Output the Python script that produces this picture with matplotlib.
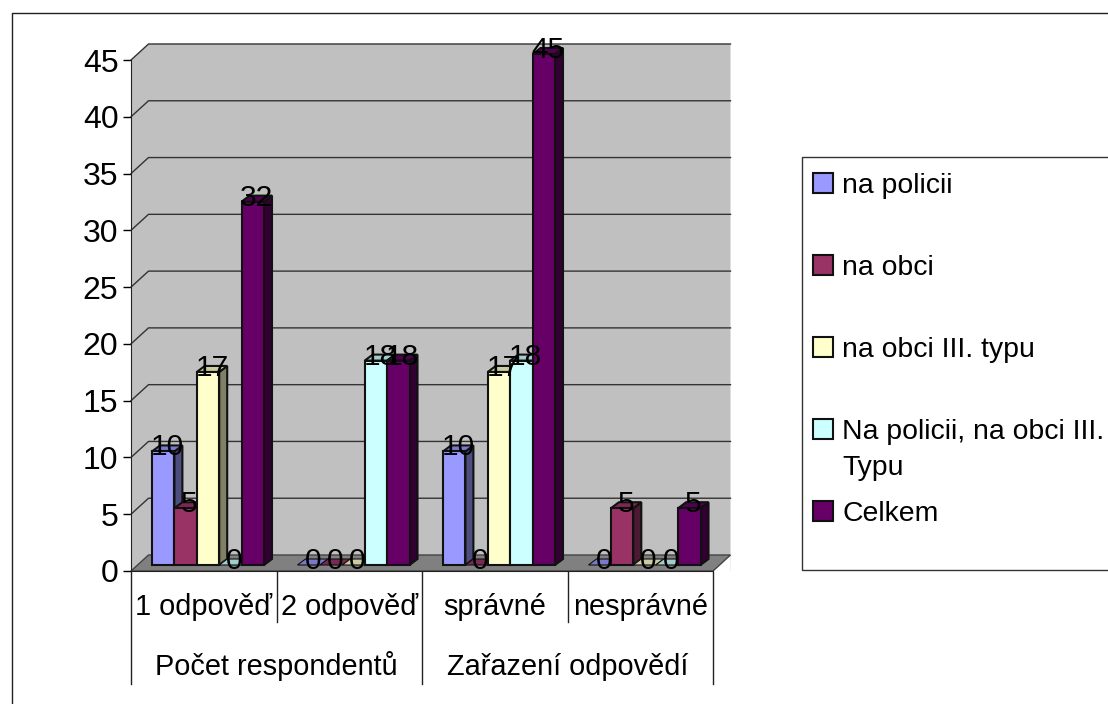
import matplotlib
matplotlib.use('Agg')
import matplotlib.pyplot as plt
from matplotlib.patches import Polygon, Rectangle

# data
groups = ['Počet respondentů', 'Zařazení odpovědí']
categories = ['1 odpověď', '2 odpověď', 'správné', 'nesprávné']
series_names = ['na policii', 'na obci', 'na obci III. typu', 'Na policii, na obci III.\nTypu', 'Celkem']
na_policii = [10, 0, 10, 0]
na_obci = [5, 0, 0, 5]
na_obci_iii = [17, 0, 17, 0]
policie_obec_iii = [0, 18, 18, 0]
celkem = [32, 18, 45, 5]
series = [na_policii, na_obci, na_obci_iii, policie_obec_iii, celkem]
colors = ['#9999FF', '#993366', '#FFFFCC', '#CCFFFF', '#660066']
yticks = list(range(0, 50, 5))

W, H = 1108, 704
FONT = 'Liberation Sans'
FS_TICK = 23
FS_LABEL = 21.5
FS_CAT = 20.8
FS_LEG = 20.4

fig = plt.figure(figsize=(W / 100, H / 100), dpi=100)

# overlay in pixels for frame, legend and the category table
bg = fig.add_axes([0, 0, 1, 1])
bg.set_xlim(0, W)
bg.set_ylim(H, 0)
bg.axis('off')

left, right, top, bottom = 131, 713, 60, 571
ax = fig.add_axes([left / W, 1 - bottom / H, (right - left) / W, (bottom - top) / H])
ax.patch.set_alpha(0)
ax.set_xlim(0, 4)
ax.set_ylim(0, 45)

# one pixel in data units
px = 4 / (right - left)
py = 45 / (bottom - top)
wall_dx, wall_dy = 17.5 * px, 16 * py
bar_dx, bar_dy = 8 * px, 6 * py
bar_w = 22.4 * px
group_start = 21 * px


def shade(color, f):
    r, g, b = matplotlib.colors.to_rgb(color)
    return (r * f, g * f, b * f)


def poly(points, color, z, lw=1.5, edge='#111111'):
    ax.add_patch(Polygon(points, closed=True, facecolor=color, edgecolor=edge,
                         linewidth=lw, clip_on=False, zorder=z))


# walls and floor
ymax = 45
poly([(0, 0), (4 + wall_dx, 0), (4 + wall_dx, ymax + wall_dy), (wall_dx, ymax + wall_dy), (0, ymax)],
     '#C0C0C0', 1, 0, 'none')
poly([(4, 0), (4 + wall_dx, wall_dy), (4 + wall_dx, -1 * py), (4, -1 * py)], 'white', 1, 0, 'none')
poly([(0, 0), (wall_dx, wall_dy), (4 + wall_dx, wall_dy), (4, 0)], '#808080', 2, 1.0, '#444444')
for v in yticks[1:]:
    ax.plot([0, wall_dx, 4 + wall_dx], [v, v + wall_dy, v + wall_dy], color='#333333', lw=1.0,
            clip_on=False, zorder=2)

# bars
z = 3
for c in range(len(categories)):
    for s, vals in enumerate(series):
        v = vals[c]
        x0 = c + group_start + s * bar_w
        x1 = x0 + bar_w
        y0 = bar_dy
        if v == 0:
            # empty bar, only a flat top is left on the floor
            poly([(x0, y0), (x1, y0), (x1 + bar_dx, y0 + bar_dy), (x0 + bar_dx, y0 + bar_dy)],
                 shade(colors[s], 0.8), z, lw=0.8)
            z += 1
            continue
        poly([(x1, y0), (x1 + bar_dx, y0 + bar_dy), (x1 + bar_dx, y0 + v + bar_dy), (x1, y0 + v)],
             shade(colors[s], 0.5), z)
        poly([(x0, y0 + v), (x1, y0 + v), (x1 + bar_dx, y0 + v + bar_dy), (x0 + bar_dx, y0 + v + bar_dy)],
             shade(colors[s], 0.8), z)
        ax.bar(x0, v, width=bar_w, bottom=y0, align='edge', color=colors[s], edgecolor='#111111',
               linewidth=1.5, clip_on=False, zorder=z)
        z += 1

for c in range(len(categories)):
    for s, vals in enumerate(series):
        v = vals[c]
        x0 = c + group_start + s * bar_w
        ax.text(x0 + bar_w / 2 + bar_dx / 2, v + bar_dy + 4 * py, str(v), ha='center', va='center',
                fontsize=FS_LABEL, family=FONT, color='black', clip_on=False, zorder=200)

# axis
ax.set_xticks([])
ax.set_yticks(yticks)
ax.set_yticklabels([str(v) for v in yticks], fontsize=FS_TICK, family=FONT)
ax.tick_params(axis='y', length=6, width=1, pad=3)
for name in ['top', 'right']:
    ax.spines[name].set_visible(False)
ax.spines['left'].set_color('#222222')
ax.spines['left'].set_zorder(100)
ax.spines['bottom'].set_color('#222222')
ax.spines['bottom'].set_zorder(100)

# category table under the axis
cat_w = (right - left) / len(categories)
for i in range(len(categories) + 1):
    x = left + i * cat_w
    end = 684 if i % 2 == 0 else 622
    bg.plot([x, x], [bottom, end], color='#222222', lw=1.0)
for i, label in enumerate(categories):
    bg.text(left + (i + 0.5) * cat_w, 615, label, ha='center', va='baseline', fontsize=FS_CAT, family=FONT)
for i, label in enumerate(groups):
    bg.text(left + (2 * i + 1) * cat_w, 675, label, ha='center', va='baseline', fontsize=FS_CAT, family=FONT)

# outer frame
bg.plot([12, 12, W + 2], [H + 2, 13, 13], color='#222222', lw=1.0)

# legend
bg.add_patch(Rectangle((802, 157), W + 10 - 802, 413, facecolor='white', edgecolor='#333333', lw=1.0))
legend_y = [183, 265, 347, 429, 511]
for name, color, y in zip(series_names, colors, legend_y):
    bg.add_patch(Rectangle((813, y - 10), 20, 20, facecolor=color, edgecolor='#111111', lw=1.5))
    lines = name.split('\n')
    for k, line in enumerate(lines):
        bg.text(842, y + 10 + 36 * k, line, ha='left', va='baseline', fontsize=FS_LEG, family=FONT)

fig.savefig('out.png', dpi=100)
